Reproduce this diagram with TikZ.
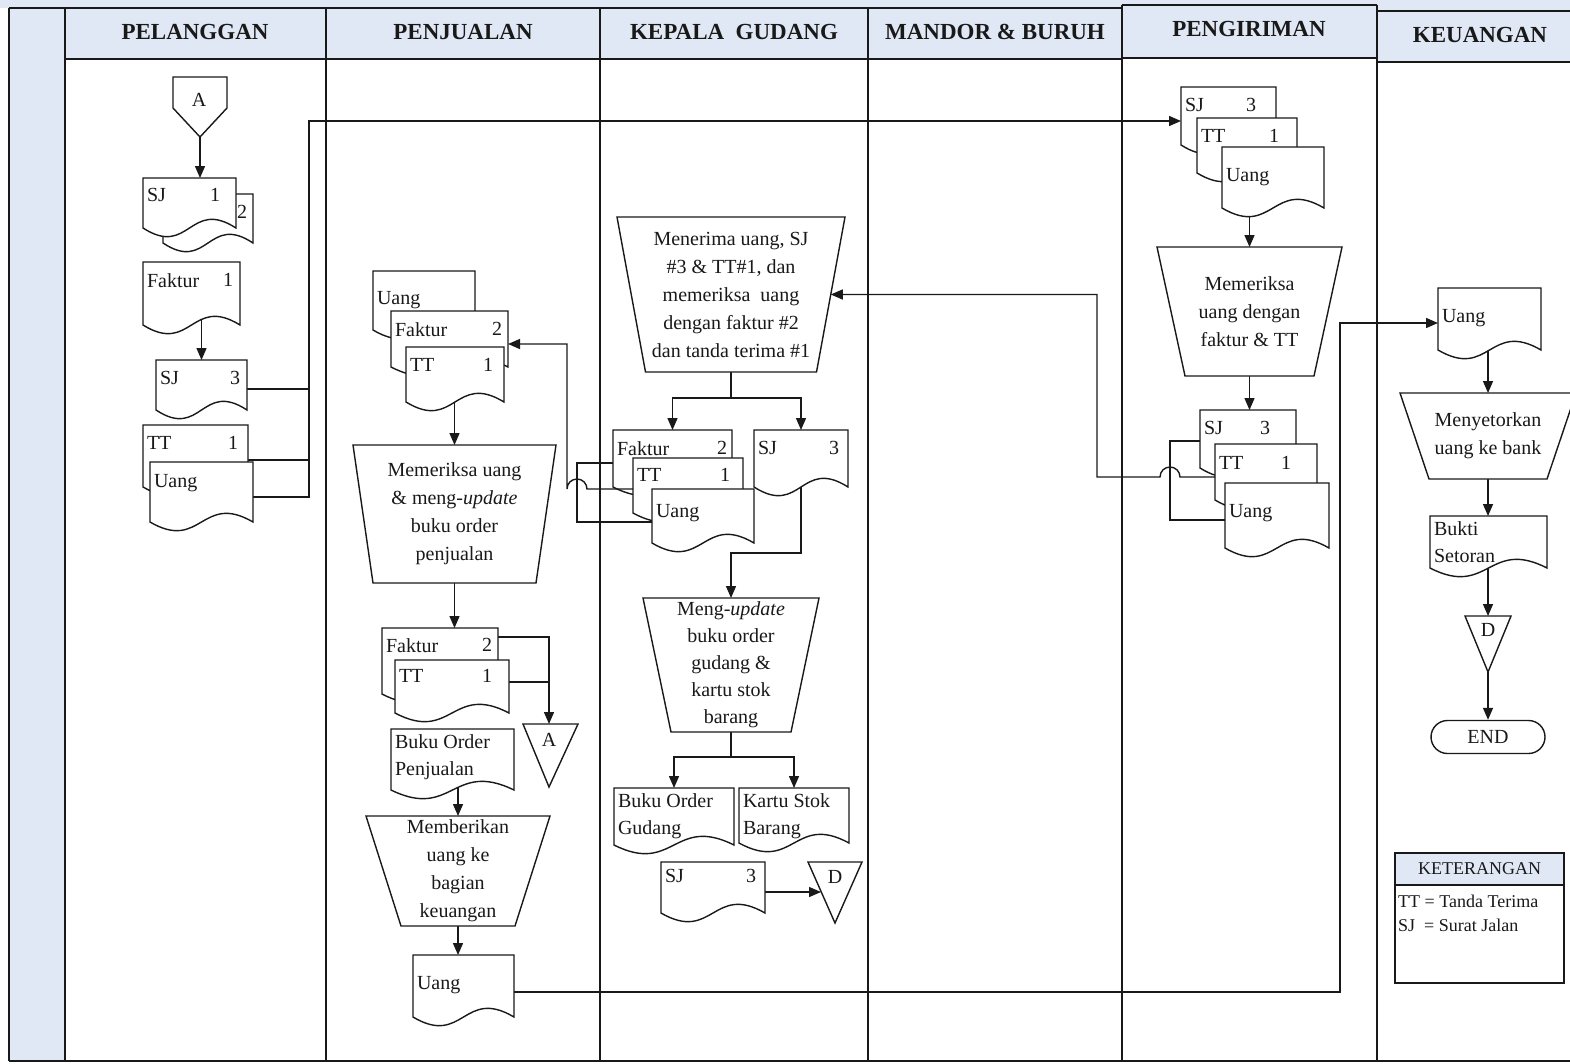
\documentclass[tikz,border=0pt]{standalone}
\usepackage{fontspec}
\setmainfont{Liberation Serif}
\usetikzlibrary{arrows.meta,shapes.misc,calc}

\definecolor{hdrblue}{RGB}{225,232,245}
\definecolor{ink}{RGB}{25,25,25}

\pgfdeclarelayer{lanes}
\pgfdeclarelayer{wires}
\pgfsetlayers{lanes,wires,main}

\makeatletter
\newdimen\dcxl \newdimen\dcxr \newdimen\dcyb \newdimen\dcyt
\newdimen\dcxm \newdimen\dcup \newdimen\dcdn \newdimen\dcin
\pgfkeys{/pgf/wave depth/.initial=30pt,/pgf/op inset/.initial=20pt}

% document symbol: flat top, wavy bottom edge (south edge = wave baseline)
\pgfdeclareshape{paperdoc}{%
  \inheritsavedanchors[from=rectangle]%
  \inheritanchorborder[from=rectangle]%
  \inheritanchor[from=rectangle]{center}%
  \inheritanchor[from=rectangle]{north}%
  \inheritanchor[from=rectangle]{south}%
  \inheritanchor[from=rectangle]{east}%
  \inheritanchor[from=rectangle]{west}%
  \inheritanchor[from=rectangle]{north east}%
  \inheritanchor[from=rectangle]{north west}%
  \inheritanchor[from=rectangle]{south east}%
  \inheritanchor[from=rectangle]{south west}%
  \inheritanchor[from=rectangle]{mid}%
  \inheritanchor[from=rectangle]{base}%
  \inheritanchor[from=rectangle]{text}%
  \backgroundpath{%
    \pgfmathsetlength\dcin{\pgfkeysvalueof{/pgf/wave depth}}%
    \southwest\dcxl=\pgf@x\dcyb=\pgf@y
    \northeast\dcxr=\pgf@x\dcyt=\pgf@y
    \dcxm=.5\dcxl\advance\dcxm by.5\dcxr
    \dcup=\dcyb\advance\dcup by\dcin
    \dcdn=\dcyb\advance\dcdn by-\dcin
    \pgfpathmoveto{\pgfqpoint{\dcxl}{\dcyt}}%
    \pgfpathlineto{\pgfqpoint{\dcxr}{\dcyt}}%
    \pgfpathlineto{\pgfqpoint{\dcxr}{\dcyb}}%
    \pgfpathcurveto{\pgfqpoint{\dcxm}{\dcup}}{\pgfqpoint{\dcxm}{\dcdn}}{\pgfqpoint{\dcxl}{\dcyb}}%
    \pgfpathclose
  }%
}

% manual operation symbol: trapezium, wide side on top
\pgfdeclareshape{manualop}{%
  \inheritsavedanchors[from=rectangle]%
  \inheritanchorborder[from=rectangle]%
  \inheritanchor[from=rectangle]{center}%
  \inheritanchor[from=rectangle]{north}%
  \inheritanchor[from=rectangle]{south}%
  \inheritanchor[from=rectangle]{east}%
  \inheritanchor[from=rectangle]{west}%
  \inheritanchor[from=rectangle]{north east}%
  \inheritanchor[from=rectangle]{north west}%
  \inheritanchor[from=rectangle]{south east}%
  \inheritanchor[from=rectangle]{south west}%
  \inheritanchor[from=rectangle]{mid}%
  \inheritanchor[from=rectangle]{base}%
  \inheritanchor[from=rectangle]{text}%
  \backgroundpath{%
    \pgfmathsetlength\dcin{\pgfkeysvalueof{/pgf/op inset}}%
    \southwest\dcxl=\pgf@x\dcyb=\pgf@y
    \northeast\dcxr=\pgf@x\dcyt=\pgf@y
    \pgfpathmoveto{\pgfqpoint{\dcxl}{\dcyt}}%
    \pgfpathlineto{\pgfqpoint{\dcxr}{\dcyt}}%
    \advance\dcxr by-\dcin\advance\dcxl by\dcin
    \pgfpathlineto{\pgfqpoint{\dcxr}{\dcyb}}%
    \pgfpathlineto{\pgfqpoint{\dcxl}{\dcyb}}%
    \pgfpathclose
  }%
}
\makeatother

\tikzset{
  wire/.style={draw=ink, line width=1.4pt},
  arr/.style={wire, -{Triangle[length=12pt,width=10pt]}},
  lane/.style={draw=ink, line width=2pt},
  docbox/.style={paperdoc, draw=ink, fill=white, line width=1.4pt, inner sep=0pt, outer sep=0pt},
  doctext/.style={inner sep=0pt, outer sep=0pt, align=left, text=ink, font=\fontsize{20}{27}\selectfont},
  opbox/.style={manualop, draw=ink, fill=white, line width=1.4pt, inner sep=0pt, outer sep=0pt,
    align=center, text=ink, anchor=north west, font=\fontsize{20}{28}\selectfont},
  hdrtext/.style={text=ink, inner sep=0pt, font=\fontsize{23}{26}\selectfont\bfseries},
  sym/.style={draw=ink, fill=white, line width=1.4pt},
  symtext/.style={text=ink, inner sep=0pt, font=\fontsize{20}{24}\selectfont},
}

% document node: name, left, top, right, wave baseline, left text, number, number margin, text baseline offset
\newcommand\docnode[9]{%
  \node[docbox, anchor=north west, minimum width={(#4-#2)*1pt}, minimum height={(#5-#3)*1pt}] (#1) at (#2,#3) {};
  \node[doctext, anchor=north west] (#1-l) at ([xshift=4pt, yshift={-(#9-13.5)*1pt}]#1.north west) {#6};
  \node[doctext, anchor=north east] (#1-r) at ([xshift={-#8*1pt}, yshift={-(#9-13.5)*1pt}]#1.north east) {#7};
}

\begin{document}
\begin{tikzpicture}[x=1pt,y=-1pt]
\useasboundingbox (0,0) rectangle (1570,1063);

% ---------- swimlane frame ----------
\begin{pgfonlayer}{lanes}
  \fill[white] (0,0) rectangle (1570,1063);
  \fill[hdrblue] (0,0) rectangle (1570,8);
  \fill[hdrblue] (9,8) rectangle (1122,59);
  \fill[hdrblue] (1122,0) rectangle (1377,58);
  \fill[hdrblue] (1377,0) rectangle (1570,62);
  \fill[hdrblue] (9,59) rectangle (65,1061);
  \draw[lane] (9,8) -- (1122,8);
  \draw[lane] (1122,5) -- (1377,5);
  \draw[lane, line width=2.8pt] (1377,11) -- (1570,11);
  \draw[lane] (65,59) -- (1122,59);
  \draw[lane] (1122,58) -- (1377,58);
  \draw[lane] (1377,62) -- (1570,62);
  \foreach \x in {9,65,326,600,868} \draw[lane] (\x,8) -- (\x,1061);
  \draw[lane] (1122,5) -- (1122,1061);
  \draw[lane] (1377,5) -- (1377,1061);
  \draw[lane] (9,1061) -- (1570,1061);
\end{pgfonlayer}

\node[hdrtext] (hP) at (195,32) {PELANGGAN};
\node[hdrtext] (hJ) at (463,32) {PENJUALAN};
\node[hdrtext] (hG) at (734,32) {KEPALA~ GUDANG};
\node[hdrtext] (hM) at (995,32) {MANDOR \& BURUH};
\node[hdrtext] (hK) at (1249,29) {PENGIRIMAN};
\node[hdrtext] (hU) at (1480,35) {KEUANGAN};

% ---------- PELANGGAN ----------
\coordinate (offA-tip) at (200,137);
\draw[sym] (173,77) -- (227,77) -- (227,108) -- (offA-tip) -- (173,108) -- cycle;
\node[symtext] (offA) at (199,100) {A};
\docnode{sjP2}{163}{194}{253}{243}{}{2}{6}{25}
\docnode{sjP1}{143}{178}{236}{228}{SJ}{1}{16}{24}
\docnode{fakP1}{143}{262}{240}{325}{Faktur}{1}{7}{25}
\docnode{sjP3}{156}{360}{247}{410}{SJ}{3}{7}{25}
\docnode{ttP}{143}{425}{248}{487}{TT}{1}{10}{25}
\docnode{uangP}{150}{462}{253}{522}{Uang}{}{7}{26}

% ---------- PENJUALAN ----------
\docnode{uangJ}{373}{271}{475}{330}{Uang}{}{7}{34}
\docnode{fakJ2}{391}{311}{508}{367}{Faktur}{2}{6}{25}
\docnode{ttJ1}{406}{347}{504}{402}{TT}{1}{11}{25}
\node[opbox, op inset=20pt, minimum width=203pt, minimum height=138pt] (chkJ) at (353,445)
  {Memeriksa uang\\\& meng-\textit{update}\\buku order\\penjualan};
\docnode{fakJ2b}{382}{628}{498}{694}{Faktur}{2}{6}{24}
\docnode{ttJ1b}{395}{660}{509}{713}{TT}{1}{17}{23}
\coordinate (offAb-top) at (549,724);
\draw[sym] (523,724) -- (578,724) -- (549,787) -- cycle;
\node[symtext] (offAb) at (549,740) {A};
\docnode{bopJ}{391}{729}{514}{790}{Buku Order\\Penjualan}{}{7}{19}
\node[opbox, op inset=35pt, minimum width=184pt, minimum height=110pt] (giveJ) at (366,816)
  {Memberikan\\uang ke\\bagian\\keuangan};
\docnode{uangJb}{413}{955}{514}{1017}{Uang}{}{7}{35}

% ---------- KEPALA GUDANG ----------
\node[opbox, op inset=28.5pt, minimum width=228pt, minimum height=155pt] (rcvG) at (617,217)
  {Menerima uang, SJ\\\#3 \& TT\#1, dan\\memeriksa~ uang\\dengan faktur \#2\\dan tanda terima \#1};
\docnode{fakG}{613}{430}{732}{487}{Faktur}{2}{5}{25}
\docnode{ttG}{633}{458}{743}{513}{TT}{1}{13}{24}
\docnode{uangG}{652}{489}{754}{543}{Uang}{}{7}{29}
\docnode{sjG}{754}{430}{848}{487}{SJ}{3}{9}{25}
\node[opbox, op inset=28pt, minimum width=176pt, minimum height=134pt,
  font=\fontsize{20}{27}\selectfont] (updG) at (643,598)
  {Meng-\textit{update}\\buku order\\gudang \&\\kartu stok\\barang};
\docnode{bogG}{614}{788}{734}{845}{Buku Order\\Gudang}{}{7}{19}
\docnode{ksbG}{739}{788}{849}{843}{Kartu Stok\\Barang}{}{7}{19}
\docnode{sjGb}{661}{862}{765}{913}{SJ}{3}{9}{21}
\draw[sym] (808,862) -- (862,862) -- (835,923) -- cycle;
\node[symtext] (offD) at (835,877) {D};
\coordinate (offD-in) at (821,892);

% ---------- PENGIRIMAN ----------
\docnode{sjK}{1181}{87}{1276}{145}{SJ}{3}{20}{25}
\docnode{ttK}{1197}{118}{1297}{173}{TT}{1}{18}{25}
\docnode{uangK}{1222}{147}{1324}{208}{Uang}{}{7}{35}
\node[opbox, op inset=28pt, minimum width=185pt, minimum height=129pt] (chkK) at (1157,247)
  {Memeriksa\\uang dengan\\faktur \& TT};
\docnode{sjKb}{1200}{410}{1296}{468}{SJ}{3}{26}{25}
\docnode{ttKb}{1215}{444}{1317}{500}{TT}{1}{26}{26}
\docnode{uangKb}{1225}{483}{1329}{548}{Uang}{}{7}{35}

% ---------- KEUANGAN ----------
\docnode{uangU}{1438}{288}{1541}{350}{Uang}{}{7}{35}
\node[opbox, op inset=29pt, minimum width=176pt, minimum height=86pt] (depU) at (1400,393)
  {Menyetorkan\\uang ke bank};
\docnode{bsU}{1430}{516}{1547}{568}{Bukti\\Setoran}{}{7}{19}
\coordinate (offDb-top) at (1488,616);
\coordinate (offDb-tip) at (1488,672);
\draw[sym] (1465,616) -- (1511,616) -- (offDb-tip) -- cycle;
\node[symtext] (offDb) at (1488,630) {D};
\node[rounded rectangle, draw=ink, fill=white, line width=1.4pt, minimum width=114pt,
  minimum height=33pt, inner sep=0pt, text=ink, font=\fontsize{20}{24}\selectfont] (endU) at (1488,737) {END};

% legend
\node[draw=ink, line width=1.6pt, fill=hdrblue, anchor=north west, minimum width=169pt,
  minimum height=32pt, inner sep=0pt, outer sep=0pt, text=ink, font=\fontsize{18}{22}\selectfont]
  (legH) at (1395,853) {KETERANGAN};
\node[draw=ink, line width=1.6pt, anchor=north west, minimum width=169pt, minimum height=98pt,
  inner sep=0pt, outer sep=0pt] (legB) at (1395,885) {};
\node[anchor=north west, align=left, inner sep=0pt, text=ink, font=\fontsize{18}{24}\selectfont]
  (legT) at (1398,895) {TT = Tanda Terima\\SJ\ \ = Surat Jalan};

% ---------- connectors (under the symbols) ----------
\begin{pgfonlayer}{wires}
  % Pelanggan
  \draw[arr] (offA-tip) -- (offA-tip |- sjP1.north);
  \draw[arr] (fakP1.center -| sjP3.north) -- (sjP3.north);
  \coordinate (busP-top) at (309,121);
  \coordinate (busP-bot) at (309,497);
  \coordinate (tapP1) at ([yshift=-4pt]sjP3.east);
  \coordinate (tapP2) at ([yshift=-4pt]ttP.east);
  \draw[arr] (uangP.east |- busP-bot) -- (busP-bot) -- (busP-top) -- (busP-top -| sjK.west);
  \draw[wire] (tapP1) -- (tapP1 -| busP-top);
  \draw[wire] (tapP2) -- (tapP2 -| busP-top);
  % Penjualan
  \draw[arr] (ttJ1.center -| chkJ.north) -- (chkJ.north);
  \draw[arr] (chkJ.south) -- (chkJ.south |- fakJ2b.north);
  \coordinate (tapJ1) at ([yshift=-9pt]fakJ2b.north east);
  \coordinate (tapJ2) at ([yshift=-22pt]ttJ1b.north east);
  \draw[arr] (tapJ1) -| (offAb-top);
  \draw[wire] (tapJ2) -- (tapJ2 -| offAb-top);
  \draw[arr] (bopJ.center -| giveJ.north) -- (giveJ.north);
  \draw[arr] (giveJ.south) -- (giveJ.south |- uangJb.north);
  \coordinate (busU-bot) at (1340,992);
  \coordinate (busU-top) at (1340,323);
  \draw[arr] (uangJb.east |- busU-bot) -- (busU-bot) -- (busU-top) -- (busU-top -| uangU.west);
  % Kepala Gudang
  \coordinate (spG) at (731,398);
  \draw[wire] (rcvG.south) -- (spG);
  \draw[arr] (spG) -| (fakG.north);
  \draw[arr] (spG) -| (sjG.north);
  \coordinate (jG) at (801,553);
  \draw[arr] (sjG.center) -- (jG) -- (jG -| updG.north) -- (updG.north);
  \coordinate (sp2G) at (731,757);
  \draw[wire] (updG.south) -- (sp2G);
  \draw[arr] (sp2G) -| (bogG.north);
  \draw[arr] (sp2G) -| (ksbG.north);
  \coordinate (brG-top) at (577,463);
  \coordinate (brG-bot) at (577,522);
  \draw[wire] (fakG.west |- brG-top) -- (brG-top) -- (brG-bot) -- (brG-bot -| uangG.west);
  \draw[arr] (sjGb.east |- offD-in) -- (offD-in);
  % Pengiriman
  \draw[arr] (uangK.center -| chkK.north) -- (chkK.north);
  \draw[arr] (chkK.south) -- (chkK.south |- sjKb.north);
  \coordinate (brK-top) at (1170,441);
  \coordinate (brK-bot) at (1170,520);
  \draw[wire] (sjKb.west |- brK-top) -- (brK-top) -- (brK-bot) -- (brK-bot -| uangKb.west);
  % Keuangan
  \draw[arr] (uangU.center -| depU.north) -- (depU.north);
  \draw[arr] (depU.south) -- (depU.south |- bsU.north);
  \draw[arr] (bsU.center -| offDb-top) -- (offDb-top);
  \draw[arr] (offDb-tip) -- (endU.north);
\end{pgfonlayer}

% return lines with line hops
\coordinate (hopG) at (577,489);
\coordinate (retJ) at (567,344);
\draw[arr] (ttG.west |- hopG) -- ([xshift=10pt]hopG) arc[start angle=0, end angle=180, radius=10pt]
  -- (retJ) -- (retJ -| fakJ2.east);
\coordinate (hopK) at (1170,477);
\coordinate (rcvG-in) at ($(rcvG.north east)!0.5!([xshift=-28.5pt]rcvG.south east)$);
\coordinate (retK) at (1097,477);
\draw[arr] (ttKb.west |- hopK) -- ([xshift=10pt]hopK) arc[start angle=0, end angle=180, radius=10pt]
  -- (retK) -- (retK |- rcvG-in) -- (rcvG-in);
\end{tikzpicture}
\end{document}
